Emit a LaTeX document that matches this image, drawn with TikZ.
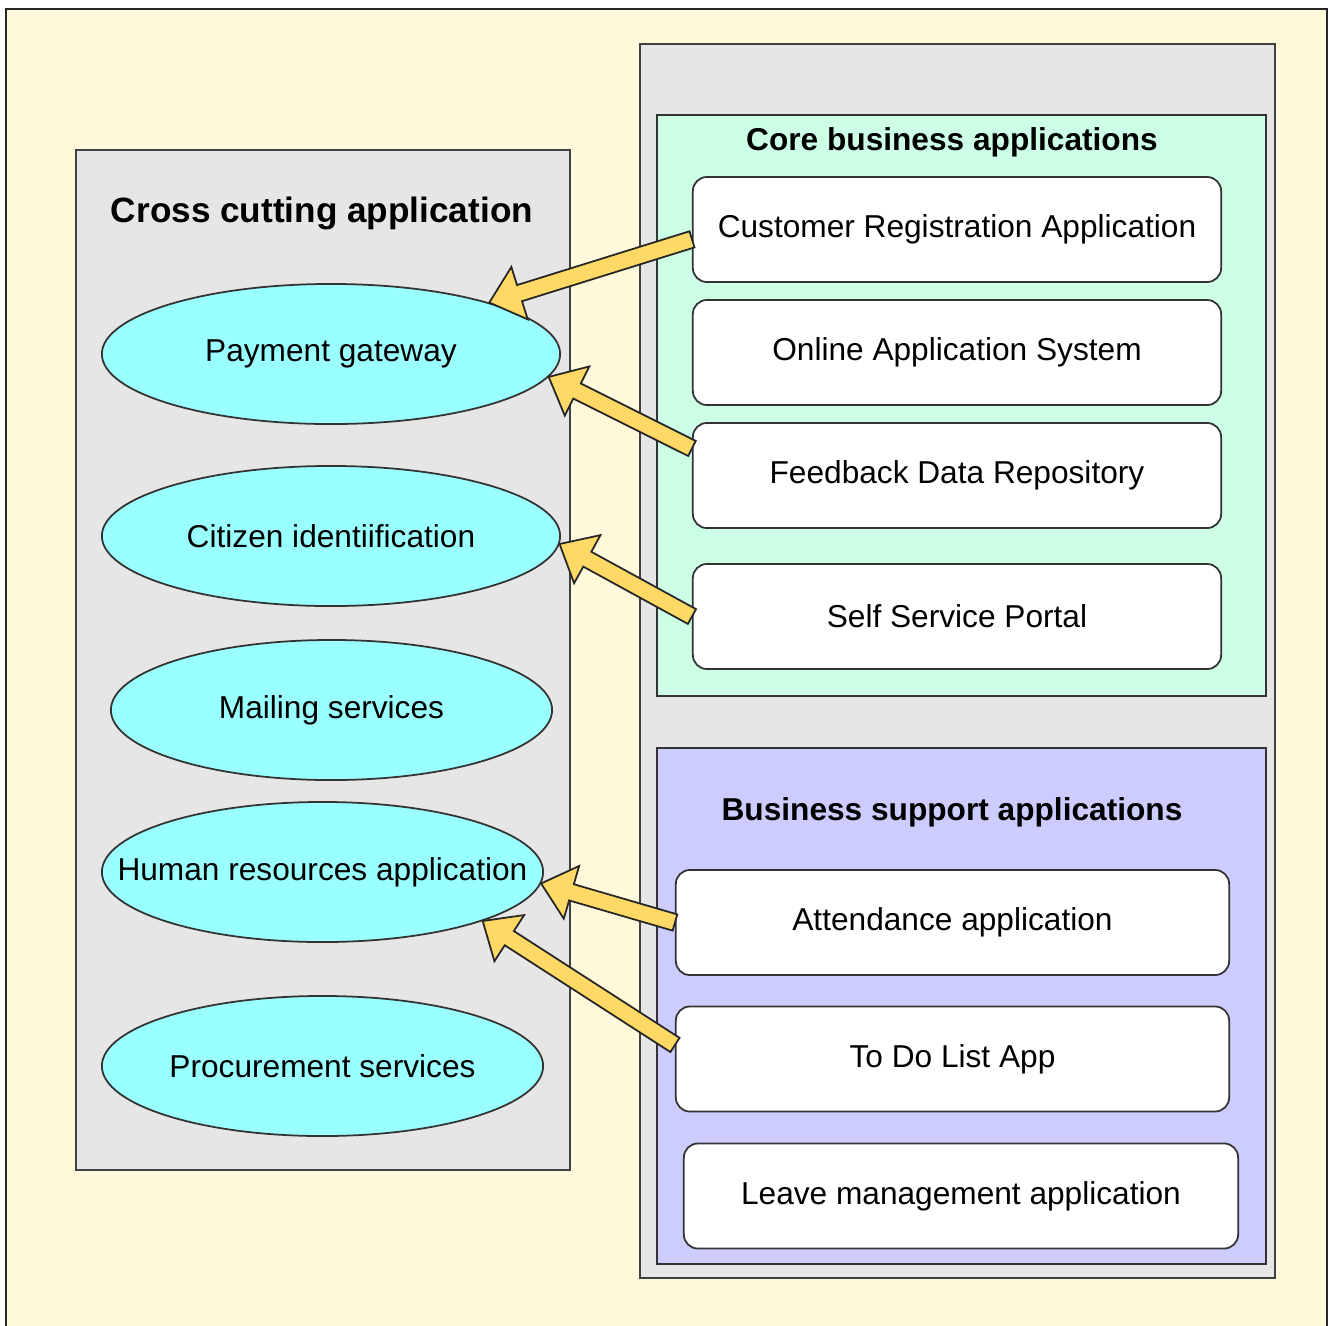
\documentclass[tikz,border=0pt]{standalone}
\usepackage{fontspec}
\setmainfont{Liberation Sans}
\usepackage{tikz}
\usetikzlibrary{shapes.geometric,calc,positioning}
\definecolor{paper}{HTML}{FFF9DB}
\definecolor{panelgray}{HTML}{E6E6E6}
\definecolor{coregreen}{HTML}{CCFFE6}
\definecolor{supportblue}{HTML}{CCCCFF}
\definecolor{ovalcyan}{HTML}{99FFFF}
\definecolor{arrowgold}{HTML}{FFD966}
\tikzset{
    panel/.style={
        rectangle,
        draw=black!75,
        fill=panelgray,
        line width=0.6pt
    },
    group/.style={
        rectangle,
        draw=black!80,
        line width=0.6pt,
        minimum width=6.09cm
    },
    app/.style={
        rectangle,
        rounded corners=4pt,
        draw=black!80,
        fill=white,
        line width=0.5pt,
        minimum height=1.05cm,
        font=\fontsize{9}{11}\selectfont
    },
    oval/.style={
        ellipse,
        draw=black!80,
        fill=ovalcyan,
        line width=0.5pt,
        minimum height=1.4cm,
        label={[font=\fontsize{9}{11}\selectfont]center:#1}
    },
    title/.style={font=\fontsize{9}{11}\selectfont\bfseries},
    fat/.style={draw=black!85, fill=arrowgold, line width=0.5pt, line join=miter}
}
% wide block arrow with outline, from tail to tip
\newcommand{\fatarrow}[2]{%
    \coordinate (tail) at (#1);
    \coordinate (tip) at (#2);
    \coordinate (neck) at ($(tip)!9pt!(tail)$);
    \draw[fat] ($(tail)!2.4pt!90:(tip)$) -- ($(neck)!2.4pt!-90:(tail)$)
        -- ($(neck)!7.8pt!-90:(tail)$) -- (tip)
        -- ($(neck)!7.8pt!90:(tail)$) -- ($(neck)!2.4pt!90:(tail)$)
        -- ($(tail)!2.4pt!-90:(tip)$) -- cycle;}

\begin{document}
\begin{tikzpicture}[x=0.01cm, y=-0.01cm]
    \clip (0,0) rectangle (1335,1326);
    \fill[white] (0,0) rectangle (1335,1326);
    % outer frame
    \draw[fill=paper, draw=black!85, line width=0.7pt] (6,9) rectangle (1327,1345);

    % left column: shared services
    \node[panel, minimum width=4.94cm, minimum height=10.2cm] (cross) at (323,660) {};
    \node[font=\fontsize{10}{12}\selectfont\bfseries] (crosstitle) at (322,213) {Cross cutting application};
    \node[oval=Payment gateway, minimum width=4.58cm] (pay) at (331,354) {};
    \node[oval=Citizen identiification, minimum width=4.58cm] (cit) at (331,536) {};
    \node[oval=Mailing services, minimum width=4.41cm] (mail) at (331.5,710) {};
    \node[oval=Human resources application, minimum width=4.41cm] (hr) at (322.5,872) {};
    \node[oval=Procurement services, minimum width=4.41cm] (proc) at (322.5,1066) {};

    % right column
    \node[panel, minimum width=6.35cm, minimum height=12.34cm] (apps) at (957.5,661) {};

    % core business group
    \node[group, fill=coregreen, minimum height=5.81cm] (core) at (961.5,405.5) {};
    \node[title] (coretitle) at (952,142) {Core business applications};
    \node[app, minimum width=5.28cm] (creg) at (957,229.5) {Customer Registration Application};
    \node[app, minimum width=5.28cm] (onl) at (957,352.5) {Online Application System};
    \node[app, minimum width=5.28cm] (fdr) at (957,475.5) {Feedback Data Repository};
    \node[app, minimum width=5.28cm] (ssp) at (957,616.5) {Self Service Portal};

    % business support group
    \node[group, fill=supportblue, minimum height=5.16cm] (support) at (961.5,1006) {};
    \node[title] (supporttitle) at (952,812) {Business support applications};
    \node[app, minimum width=5.53cm] (att) at (952.5,922.5) {Attendance application};
    \node[app, minimum width=5.53cm] (todo) at (952.5,1059) {To Do List App};
    \node[app, minimum width=5.54cm] (leave) at (961,1196) {Leave management application};

    % dependencies
    \fatarrow{[yshift=-2.8pt]creg.west}{pay.18}
    \fatarrow{[yshift=7.7pt]fdr.west}{pay.-6}
    \fatarrow{ssp.west}{cit.-2}
    \fatarrow{att.west}{hr.-3}
    \fatarrow{[yshift=4pt]todo.west}{hr.-17}
\end{tikzpicture}
\end{document}
